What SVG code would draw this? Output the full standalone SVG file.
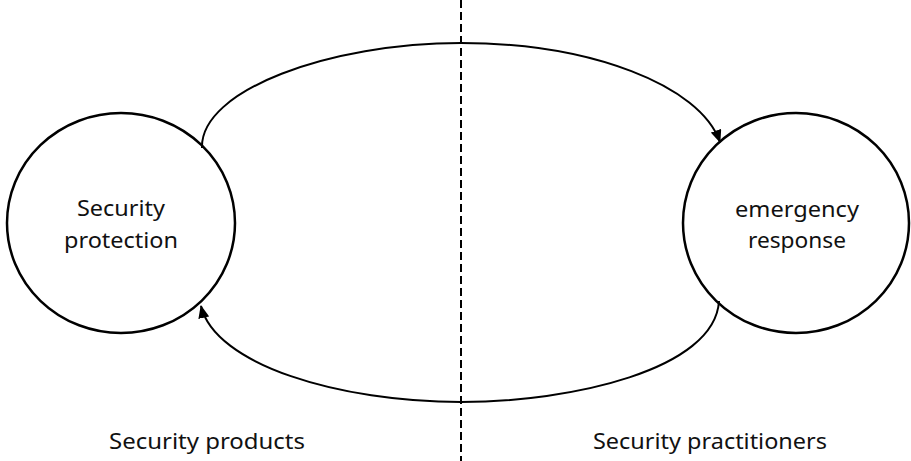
<svg xmlns="http://www.w3.org/2000/svg" width="911" height="461" viewBox="0 0 911 461">
<style>
.node{fill:#fff;stroke:#000;stroke-width:2.5}
.lbl{font-family:"Noto Sans","Open Sans",sans-serif;font-size:22px;fill:#111;text-anchor:middle}
.cap{font-family:"Noto Sans","Open Sans",sans-serif;font-size:22px;fill:#111;text-anchor:middle}
.conn{fill:none;stroke:#000;stroke-width:2}
.divider{stroke:#000;stroke-width:2;stroke-dasharray:8,4}
</style>
<defs>
<marker id="arr" viewBox="0 0 13 11" refX="12" refY="5.5" markerWidth="13" markerHeight="11" markerUnits="userSpaceOnUse" orient="auto">
<path d="M0,0 L13,5.5 L0,11 z" fill="#000"/>
</marker>
</defs>
<rect width="911" height="461" fill="#fff"/>
<line class="divider" x1="461" y1="0" x2="461" y2="461"/>
<g id="node-protection">
<ellipse class="node" cx="121" cy="223" rx="114" ry="110"/>
<text class="lbl" x="121" y="216" textLength="88" lengthAdjust="spacingAndGlyphs">Security</text>
<text class="lbl" x="121" y="248" textLength="114" lengthAdjust="spacingAndGlyphs">protection</text>
</g>
<g id="node-response">
<ellipse class="node" cx="796" cy="223" rx="113" ry="110"/>
<text class="lbl" x="797" y="217" textLength="124" lengthAdjust="spacingAndGlyphs">emergency</text>
<text class="lbl" x="797" y="248" textLength="98" lengthAdjust="spacingAndGlyphs">response</text>
</g>
<g id="connectors">
<path class="conn" d="M202,148 C200,90 330,43 461,43 C590,43 700,85 720,142" marker-end="url(#arr)"/>
<path class="conn" d="M719,301 C715,370 570,402 461,402 C340,402 215,365 201,306" marker-end="url(#arr)"/>
</g>
<g id="caption-left"><text class="cap" x="207" y="449" textLength="196" lengthAdjust="spacingAndGlyphs">Security products</text></g>
<g id="caption-right"><text class="cap" x="710" y="449" textLength="234" lengthAdjust="spacingAndGlyphs">Security practitioners</text></g>
</svg>
